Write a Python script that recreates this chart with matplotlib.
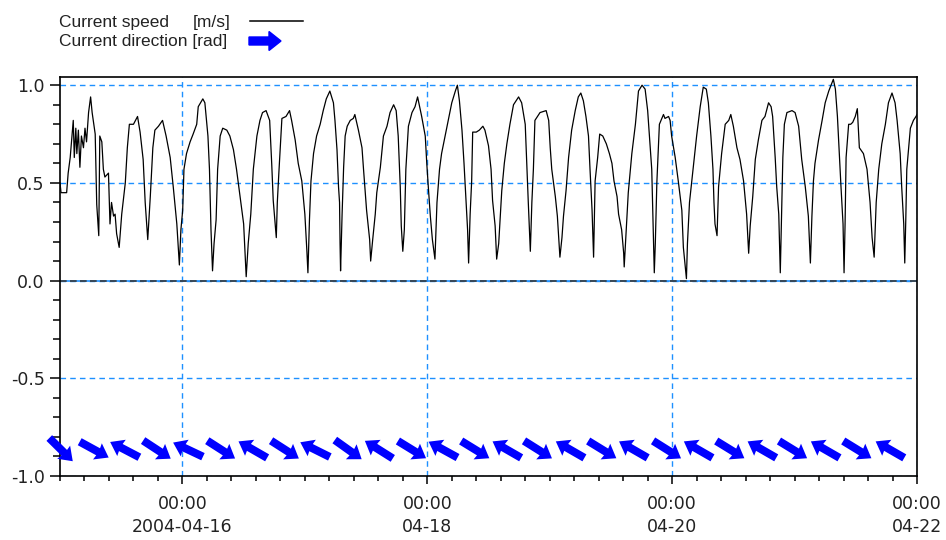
import numpy as np
import pandas as pd
import matplotlib
matplotlib.use("Agg")
import matplotlib.pyplot as plt
import matplotlib.dates as mdates
import matplotlib.ticker as ticker
from matplotlib.patches import FancyArrow
from matplotlib.lines import Line2D

plt.rcParams["axes.unicode_minus"] = False

# ---- data (hours after 2004-04-15 00:00) ----
start = pd.Timestamp("2004-04-15 00:00")
end = pd.Timestamp("2004-04-22 00:00")

speed_hours = [
    0.0, 0.2, 1.3, 1.6, 2.0, 2.6, 2.8, 3.1, 3.3, 3.6, 3.9, 4.2, 4.6, 4.9, 5.2, 5.6, 6.0, 6.3,
    6.9, 7.2, 7.6, 7.8, 8.2, 8.5, 8.8, 9.5, 9.8, 10.1, 10.5, 10.8, 11.1, 11.6, 12.1, 12.8,
    13.2, 13.6, 14.4, 15.2, 15.7, 16.3, 16.7, 17.2, 17.7, 18.2, 18.6, 19.3, 20.1, 20.8,
    21.6, 22.2, 22.9, 23.4, 23.7, 24.05, 24.3, 24.8, 25.5, 26.1, 26.8, 27.1, 28.0, 28.4,
    29.0, 29.3, 29.6, 29.9, 30.2, 30.6, 30.9, 31.4, 31.9, 32.7, 33.3, 34.0, 34.6, 35.3,
    36.0, 36.5, 36.9, 37.4, 37.9, 38.6, 39.2, 39.7, 40.4, 41.1, 41.5, 41.8, 42.4, 42.6,
    42.9, 43.5, 44.3, 45.0, 45.4, 46.1, 46.7, 47.4, 48.0, 48.4, 48.6, 48.9, 49.2, 49.7,
    50.3, 51.0, 51.6, 52.2, 52.9, 53.6, 53.9, 54.3, 54.6, 54.8, 54.9, 55.0, 55.3, 55.6,
    55.9, 56.3, 56.9, 57.5, 57.8, 58.5, 59.2, 59.5, 60.1, 60.7, 60.9, 61.3, 61.8, 62.1,
    62.8, 63.4, 64.1, 64.7, 65.4, 65.9, 66.3, 66.7, 66.9, 67.2, 67.5, 67.8, 68.3, 69.0,
    69.6, 70.1, 70.5, 70.9, 71.6, 71.9, 72.2, 72.6, 73.0, 73.5, 73.9, 74.4, 74.8, 75.5,
    76.1, 76.8, 77.5, 77.9, 78.3, 78.8, 79.2, 79.6, 79.9, 80.1, 80.4, 80.7, 80.9, 81.6,
    82.2, 82.9, 83.3, 84.0, 84.5, 84.8, 85.3, 85.6, 86.0, 86.3, 86.6, 87.1, 87.6, 88.2,
    88.9, 89.9, 90.5, 91.2, 91.5, 91.8, 92.2, 92.5, 92.8, 93.1, 94.1, 95.3, 95.8, 96.1,
    96.4, 97.1, 97.5, 98.0, 98.4, 98.7, 99.2, 99.7, 100.3, 101.0, 101.6, 102.1, 102.6,
    103.1, 103.6, 103.9, 104.3, 104.6, 104.9, 105.4, 105.8, 106.4, 107.1, 107.7, 108.2,
    108.6, 109.2, 109.5, 110.1, 110.5, 110.6, 111.0, 111.4, 112.1, 112.8, 113.4, 114.1,
    114.7, 115.2, 115.7, 116.0, 116.3, 116.5, 116.7, 117.0, 117.5, 118.3, 118.6, 119.3,
    119.6, 119.9, 120.6, 121.2, 121.9, 122.2, 122.8, 123.0, 123.4, 124.1, 124.8, 125.5,
    126.1, 126.7, 127.1, 127.6, 128.0, 128.2, 128.4, 128.8, 129.1, 129.7, 130.4, 131.1,
    131.5, 132.0, 132.7, 133.3, 134.0, 134.6, 135.0, 135.3, 135.8, 136.3, 136.9, 137.6,
    138.2, 138.9, 139.4, 139.7, 140.2, 140.5, 140.9, 141.2, 141.5, 141.7, 142.0, 142.5,
    143.5, 144.1, 144.8, 145.4, 146.1, 146.7, 147.1, 147.4, 147.7, 148.0, 148.7, 149.4,
    150.0, 150.7, 151.3, 151.6, 152.0, 152.4, 152.8, 153.1, 153.5, 153.7, 153.9, 154.1,
    154.6, 155.0, 155.4, 155.9, 156.3, 156.7, 157.5, 158.2, 158.8, 159.2, 159.6, 160.0,
    160.5, 161.1, 161.8, 162.4, 163.1, 163.7, 164.1, 164.7, 165.0, 165.4, 165.6, 165.8,
    166.0, 166.7, 167.3, 167.8, 168.0,
]
speed_values = [
    0.50, 0.45, 0.45, 0.55, 0.63, 0.82, 0.63, 0.78, 0.65, 0.77, 0.58, 0.74, 0.68, 0.78, 0.71, 0.86, 0.94, 0.86,
    0.75, 0.39, 0.23, 0.74, 0.71, 0.57, 0.53, 0.55, 0.29, 0.40, 0.33, 0.34, 0.24, 0.17, 0.34, 0.50,
    0.68, 0.80, 0.80, 0.84, 0.76, 0.62, 0.40, 0.21, 0.43, 0.68, 0.77, 0.79, 0.82, 0.74,
    0.63, 0.48, 0.29, 0.08, 0.26, 0.36, 0.57, 0.65, 0.71, 0.75, 0.80, 0.89, 0.93, 0.91,
    0.74, 0.57, 0.26, 0.05, 0.19, 0.31, 0.57, 0.74, 0.78, 0.77, 0.74, 0.67, 0.57, 0.43,
    0.29, 0.02, 0.19, 0.34, 0.57, 0.74, 0.82, 0.86, 0.87, 0.82, 0.60, 0.41, 0.22, 0.40,
    0.55, 0.83, 0.84, 0.87, 0.82, 0.72, 0.60, 0.51, 0.34, 0.15, 0.04, 0.31, 0.51, 0.65,
    0.74, 0.80, 0.87, 0.93, 0.97, 0.91, 0.82, 0.67, 0.48, 0.40, 0.19, 0.05, 0.34, 0.58,
    0.74, 0.79, 0.82, 0.83, 0.85, 0.77, 0.68, 0.57, 0.36, 0.21, 0.10, 0.21, 0.34, 0.45,
    0.58, 0.74, 0.79, 0.86, 0.90, 0.87, 0.74, 0.48, 0.28, 0.15, 0.26, 0.57, 0.79, 0.86,
    0.89, 0.94, 0.89, 0.84, 0.74, 0.60, 0.48, 0.33, 0.21, 0.11, 0.40, 0.57, 0.65, 0.74,
    0.82, 0.91, 0.97, 1.00, 0.92, 0.77, 0.60, 0.40, 0.26, 0.09, 0.34, 0.51, 0.76, 0.76,
    0.77, 0.79, 0.77, 0.69, 0.57, 0.41, 0.28, 0.11, 0.19, 0.33, 0.46, 0.60, 0.70, 0.80,
    0.90, 0.94, 0.91, 0.80, 0.60, 0.40, 0.15, 0.40, 0.57, 0.82, 0.86, 0.87, 0.82, 0.68,
    0.57, 0.43, 0.33, 0.12, 0.22, 0.33, 0.46, 0.63, 0.77, 0.87, 0.94, 0.96, 0.92,
    0.84, 0.74, 0.57, 0.36, 0.12, 0.51, 0.63, 0.75, 0.74, 0.70, 0.65, 0.60,
    0.51, 0.43, 0.34, 0.26, 0.14, 0.07, 0.26, 0.45, 0.65, 0.80, 0.97, 1.00,
    0.98, 0.87, 0.68, 0.57, 0.26, 0.04, 0.19, 0.50, 0.80, 0.85, 0.83, 0.84,
    0.82, 0.74, 0.63, 0.51, 0.36, 0.17, 0.01, 0.19, 0.40, 0.57, 0.74, 0.89,
    0.99, 0.98, 0.91, 0.74, 0.57, 0.40, 0.29, 0.23, 0.48, 0.65, 0.80, 0.82,
    0.85, 0.79, 0.68, 0.62, 0.51, 0.34, 0.14, 0.28, 0.43, 0.62, 0.72, 0.82,
    0.84, 0.91, 0.89, 0.84, 0.63, 0.48, 0.34, 0.04, 0.40, 0.63, 0.80, 0.86,
    0.87, 0.86, 0.79, 0.62, 0.48, 0.33, 0.09, 0.33, 0.51, 0.60, 0.72, 0.82,
    0.91, 0.97, 1.01, 1.03, 0.98, 0.84, 0.63, 0.48, 0.29, 0.04, 0.29, 0.63,
    0.80, 0.80, 0.81, 0.84, 0.88, 0.68, 0.65, 0.57, 0.40, 0.22, 0.12, 0.40,
    0.57, 0.70, 0.80, 0.91, 0.96, 0.91, 0.82, 0.65, 0.48, 0.29, 0.09, 0.31,
    0.57, 0.78, 0.82, 0.84, 0.85,
]

dir_hours = [0.2, 6.7, 12.7, 19.0, 25.1, 31.6, 37.8, 44.1, 50.0, 56.5, 62.5, 69.0, 75.1, 81.4,
             87.6, 93.7, 100.0, 106.3, 112.4, 119.0, 125.1, 131.4, 137.6, 143.7, 150.0, 156.3, 162.7]
dir_rad = [-0.78, -0.50, 2.66, -0.58, 2.70, -0.57, 2.62, -0.57, 2.68, -0.62, 2.58, -0.55, 2.64, -0.55,
           2.62, -0.56, 2.62, -0.55, 2.62, -0.56, 2.62, -0.55, 2.62, -0.55, 2.62, -0.55, 2.62]
dir_level = -0.865

xtick_dates = ["2004-04-16", "2004-04-18", "2004-04-20", "2004-04-22"]
xtick_labels = ["00:00\n2004-04-16", "00:00\n04-18", "00:00\n04-20", "00:00\n04-22"]

grid_blue = "#1E90FF"
dash = (0, (4, 3))

# ---- figure ----
fig = plt.figure(figsize=(9.46, 5.4), dpi=100)
ax = fig.add_axes([60 / 946, 64 / 540, 857 / 946, 399 / 540])

x_speed = mdates.date2num((start + pd.to_timedelta(speed_hours, unit="h")).to_pydatetime())
x_dir = mdates.date2num((start + pd.to_timedelta(dir_hours, unit="h")).to_pydatetime())

ax.plot(x_speed, speed_values, color="black", lw=0.9, zorder=3)

ang = np.array(dir_rad)
ax.quiver(x_dir, np.full(len(x_dir), dir_level), np.cos(ang), np.sin(ang),
          color="blue", units="dots", angles="uv", scale_units="dots", scale=1 / 33,
          width=8, headwidth=2.3, headlength=1.6, headaxislength=1.5,
          pivot="middle", clip_on=False, zorder=4)

# grid + zero line
ax.grid(True, which="major", color=grid_blue, linestyle=dash, linewidth=1)
ax.axhline(0, color=grid_blue, lw=1.2, zorder=2)
ax.axhline(0, color="#3a3a3a", lw=1.2, ls=(0, (4, 2)), zorder=2.1)

ax.set_xlim(mdates.date2num(start.to_pydatetime()), mdates.date2num(end.to_pydatetime()))
ax.set_ylim(-1.0, 1.042)

xt = mdates.date2num(pd.to_datetime(xtick_dates).to_pydatetime())
ax.set_xticks(xt, xtick_labels)
ax.xaxis.set_minor_locator(ticker.MultipleLocator(0.2))
ax.yaxis.set_major_locator(ticker.MultipleLocator(0.5))
ax.yaxis.set_minor_locator(ticker.MultipleLocator(0.1))
ax.yaxis.set_major_formatter(ticker.FormatStrFormatter("%.1f"))

ax.tick_params(axis="both", which="both", direction="out", width=1.1, colors="black",
               labelsize=12.5, labelcolor="#222222")
ax.tick_params(axis="y", which="major", length=7, pad=4)
ax.tick_params(axis="y", which="minor", length=5)
ax.tick_params(axis="x", which="major", length=6, pad=8)
ax.tick_params(axis="x", which="minor", length=3.6)
for lab in ax.get_xticklabels():
    lab.set_linespacing(1.35)

for s in ax.spines.values():
    s.set_linewidth(1.2)
    s.set_color("black")

# ---- legend (top left, outside axes) ----
fig.text(59 / 946, 1 - 27 / 540, "Current speed", fontsize=12.5, family="Liberation Sans",
         va="baseline", color="#222222")
fig.text(193 / 946, 1 - 27 / 540, "[m/s]", fontsize=12.5, family="Liberation Sans",
         va="baseline", color="#222222")
fig.text(59 / 946, 1 - 46 / 540, "Current direction [rad]", fontsize=12.5, family="Liberation Sans",
         va="baseline", color="#222222")
fig.add_artist(Line2D([2.50, 3.03], [5.19, 5.19], color="black", lw=1.1,
                      transform=fig.dpi_scale_trans))
fig.add_artist(FancyArrow(2.49, 4.99, 0.32, 0, width=0.08, head_width=0.19, head_length=0.12,
                          length_includes_head=True, color="blue", transform=fig.dpi_scale_trans))

fig.savefig("out.png", dpi=100)
